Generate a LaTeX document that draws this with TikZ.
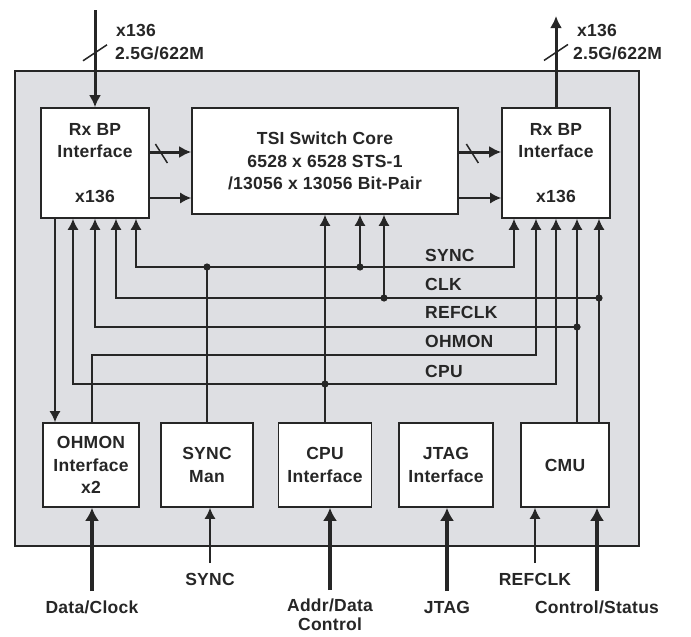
\documentclass[tikz,border=0pt]{standalone}
\usepackage{fontspec}
\setmainfont[LetterSpace=1.5]{Liberation Sans}
\usepackage{tikz}
\usetikzlibrary{arrows.meta,positioning,calc}
\definecolor{myInk}{RGB}{38,38,38}
\definecolor{myChip}{RGB}{222,223,227}
\newcommand{\blkfont}{\fontsize{17.5}{22.5}\selectfont\bfseries}
\tikzset{
	sbox/.style={
		draw=myInk,
		fill=white,
		line width=1.6pt,
		align=center,
		inner sep=0pt,
		text=myInk,
		font=\blkfont
	},
	slbl/.style={inner sep=0pt, align=center, text=myInk, font=\blkfont},
	swire/.style={draw=myInk, line width=1.5pt},
	sarr/.style={-{Latex[length=11pt,width=11pt]}, line width=1.5pt, myInk},
	sbus/.style={-{Latex[length=12pt,width=12pt]}, line width=3pt, myInk},
	sfat/.style={-{Latex[length=13pt,width=14pt]}, line width=4pt, myInk}
}

\begin{document}
\begin{tikzpicture}[x=1pt, y=-1pt]
		\useasboundingbox (0,0) rectangle (691,637);
		% chip outline
		\draw[draw=myInk, fill=myChip, line width=1.8pt] (15,71) rectangle (639,546);

		\node[sbox, minimum width=108pt, minimum height=110pt] (rxL) at (95,163) {Rx BP\\Interface\\[22.5pt]x136};
		\node[sbox, minimum width=266pt, minimum height=106pt] (tsi) at (325,161) {%
			TSI Switch Core\\
			6528 x 6528 STS-1\\
			/13056 x 13056 Bit-Pair};
		\node[sbox, minimum width=108pt, minimum height=110pt] (rxR) at (556,163) {Rx BP\\Interface\\[22.5pt]x136};

		\node[sbox, minimum width=96pt, minimum height=84pt] (ohmon) at (91,465) {OHMON\\Interface\\x2};
		\node[sbox, minimum width=92pt, minimum height=84pt] (sman) at (207,465) {SYNC\\Man};
		\node[sbox, minimum width=93pt, minimum height=84pt] (cpu) at (325,465) {CPU\\Interface};
		\node[sbox, minimum width=94pt, minimum height=84pt] (jtag) at (446,465) {JTAG\\Interface};
		\node[sbox, minimum width=88pt, minimum height=84pt] (cmu) at (565,465) {CMU};

		% line side
		\coordinate (inTop) at (95,10);
		\coordinate (outTop) at (556,16);
		\draw[sbus] (inTop) -- coordinate[pos=0.44] (sl1) (rxL.north);
		\draw[sbus] (rxR.north) -- coordinate[pos=0.6] (sl2) (outTop);
		\draw[swire] ([shift={(-12pt,-8pt)}]sl1) -- ([shift={(12pt,8pt)}]sl1);
		\draw[swire] ([shift={(-12pt,-8pt)}]sl2) -- ([shift={(12pt,8pt)}]sl2);
		\node[slbl, anchor=west] (inA) at (116,30) {x136};
		\node[slbl, anchor=west] (inB) at (115,53) {2.5G/622M};
		\node[slbl, anchor=west] (outA) at (577,30) {x136};
		\node[slbl, anchor=west] (outB) at (573,53) {2.5G/622M};

		% datapath
		\coordinate (yHi) at (0,152);
		\coordinate (yLo) at (0,198);
		\draw[sbus] (rxL.east |- yHi) -- coordinate[pos=0.28] (sl3) (tsi.west |- yHi);
		\draw[sarr] (rxL.east |- yLo) -- (tsi.west |- yLo);
		\draw[sbus] (tsi.east |- yHi) -- coordinate[pos=0.32] (sl4) (rxR.west |- yHi);
		\draw[sarr] (tsi.east |- yLo) -- (rxR.west |- yLo);
		\draw[swire] ([shift={(-6pt,8pt)}]sl3) -- ([shift={(6pt,-11pt)}]sl3);
		\draw[swire] ([shift={(-6pt,8pt)}]sl4) -- ([shift={(6pt,-11pt)}]sl4);

		% control buses
		\coordinate (ySync) at (0,267);
		\coordinate (yClk) at (0,298);
		\coordinate (yRef) at (0,327);
		\coordinate (yOhm) at (0,355);
		\coordinate (yCpu) at (0,384);

		\coordinate (sJ) at (sman.north |- ySync);
		\coordinate (sT) at ([xshift=35pt]tsi.south |- ySync);
		\draw[swire] (sman.north) -- (sJ);
		\draw[sarr] (sJ) -| ([xshift=41pt]rxL.south);
		\draw[sarr] (sJ) -| ([xshift=-42pt]rxR.south);
		\draw[sarr] (sT) -- ([xshift=35pt]tsi.south);

		\coordinate (cJ) at ([xshift=34pt]cmu.north |- yClk);
		\coordinate (cT) at ([xshift=59pt]tsi.south |- yClk);
		\draw[sarr] ([xshift=34pt]cmu.north) -- ([xshift=43pt]rxR.south);
		\draw[sarr] (cJ) -| ([xshift=21pt]rxL.south);
		\draw[sarr] (cT) -- ([xshift=59pt]tsi.south);

		\coordinate (rJ) at ([xshift=12pt]cmu.north |- yRef);
		\draw[sarr] ([xshift=12pt]cmu.north) -- ([xshift=21pt]rxR.south);
		\draw[sarr] (rJ) -| (rxL.south);

		\draw[sarr] ([xshift=1pt]ohmon.north) -- ([xshift=1pt]ohmon.north |- yOhm) -| ([xshift=-20pt]rxR.south);
		\draw[sarr] ([xshift=-40pt]rxL.south) -- ([xshift=-36pt]ohmon.north);

		\coordinate (pJ) at (cpu.north |- yCpu);
		\draw[sarr] (cpu.north) -- (tsi.south);
		\draw[sarr] (pJ) -| ([xshift=-22pt]rxL.south);
		\draw[sarr] (pJ) -| (rxR.south);

		\foreach \j in {sJ,sT,cJ,cT,rJ,pJ}
			\fill[myInk] (\j) circle (3.6pt);

		\node[slbl, anchor=west] (lSync) at (425,255) {SYNC};
		\node[slbl, anchor=west] (lClk) at (425,284) {CLK};
		\node[slbl, anchor=west] (lRef) at (425,312) {REFCLK};
		\node[slbl, anchor=west] (lOhm) at (425,341) {OHMON};
		\node[slbl, anchor=west] (lCpu) at (425,371) {CPU};

		% external pins
		\node[slbl, anchor=north] (dclk) at (92,601) {Data/Clock};
		\node[slbl, anchor=north] (xsync) at (210,573) {SYNC};
		\node[slbl, anchor=north] (addr) at (330,599) {Addr/Data\\[-4pt]Control};
		\node[slbl, anchor=north] (xjtag) at (447,601) {JTAG};
		\node[slbl, anchor=north] (xref) at (535,573) {REFCLK};
		\node[slbl, anchor=north] (ctrl) at (597,601) {Control/Status};

		\draw[sfat] ([yshift=10pt]dclk.north) -- (dclk.north |- ohmon.south);
		\draw[sarr] ([yshift=10pt]xsync.north) -- (xsync.north |- sman.south);
		\draw[sfat] ([yshift=9pt]addr.north) -- (addr.north |- cpu.south);
		\draw[sfat] ([yshift=10pt]xjtag.north) -- (xjtag.north |- jtag.south);
		\draw[sarr] ([yshift=10pt]xref.north) -- (xref.north |- cmu.south);
		\draw[sfat] ([yshift=10pt]ctrl.north) -- (ctrl.north |- cmu.south);
	\end{tikzpicture}
\end{document}
